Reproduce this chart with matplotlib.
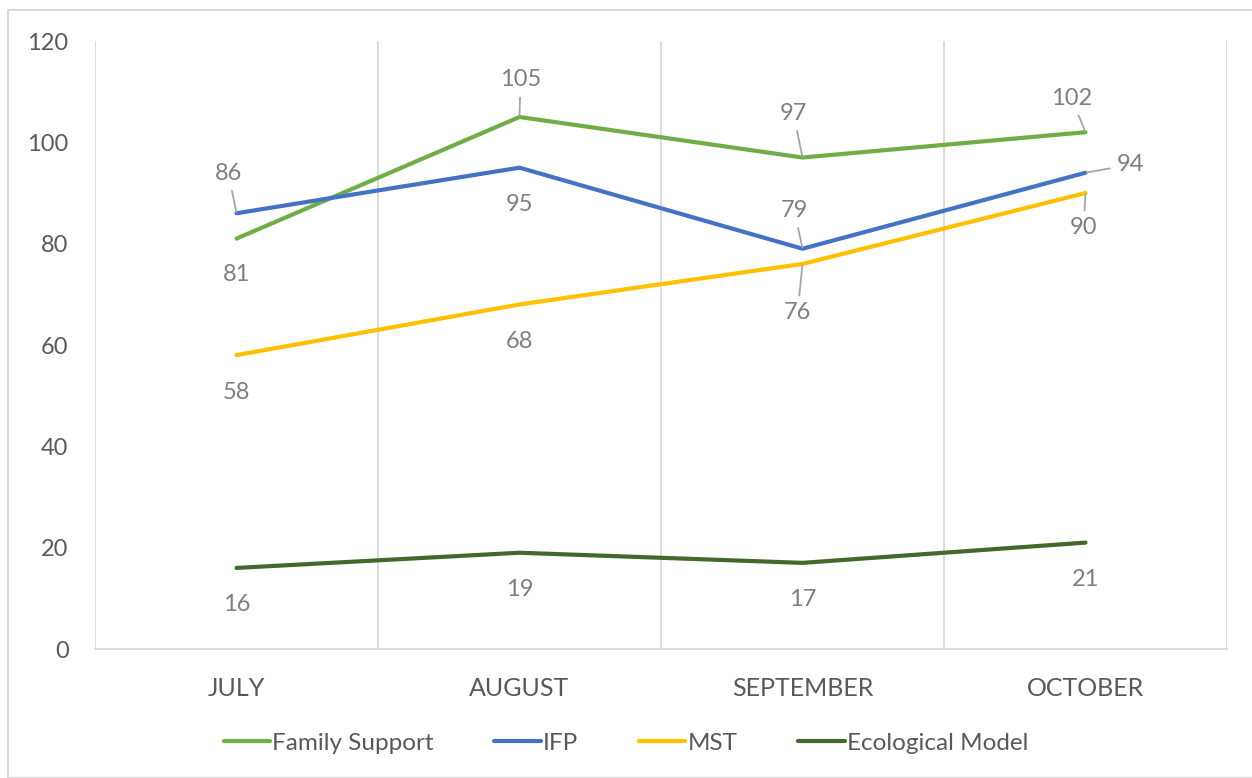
import matplotlib.pyplot as plt
from matplotlib.patches import Rectangle

plt.rcParams['font.family'] = ['Lato', 'DejaVu Sans']

# chart data
months = ['JULY', 'AUGUST', 'SEPTEMBER', 'OCTOBER']
family_support = [81, 105, 97, 102]
ifp = [86, 95, 79, 94]
mst = [58, 68, 76, 90]
ecological = [16, 19, 17, 21]

series = [
    ('Family Support', family_support, '#70AD47'),
    ('IFP', ifp, '#4472C4'),
    ('MST', mst, '#FFC000'),
    ('Ecological Model', ecological, '#43682B'),
]

# label placement (pixel offsets from each point) and whether a leader line is drawn
label_offsets = {
    'Family Support': [(0, -36), (1, 37), (-9, 44), (-14, 34)],
    'IFP': [(-8, 40), (0, -37), (-8, 38), (45, 8)],
    'MST': [(0, -37), (0, -37), (-5, -49), (-2, -35)],
    'Ecological Model': [(0, -37), (0, -37), (0, -37), (0, -37)],
}
leaders = {
    'Family Support': [False, True, True, True],
    'IFP': [True, False, True, True],
    'MST': [False, False, True, True],
    'Ecological Model': [False, False, False, False],
}

fig = plt.figure(figsize=(12.52, 7.78), dpi=100)
ax = fig.add_axes([95 / 1252, 1 - 649 / 778, (1227 - 95) / 1252, (649 - 41) / 778])

# outer chart border
fig.patches.append(Rectangle((8 / 1252, 0), 1.0, 1 - 10 / 778, transform=fig.transFigure,
                             fill=False, edgecolor='#d9d9d9', linewidth=1.5))

x = list(range(len(months)))
for name, vals, color in series:
    ax.plot(x, vals, color=color, linewidth=3, label=name, solid_capstyle='round')
    for i, v in enumerate(vals):
        dx, dy = label_offsets[name][i]
        arrow = None
        if leaders[name][i]:
            arrow = dict(arrowstyle='-', color='#a6a6a6', lw=1.3, shrinkA=3, shrinkB=1)
        ax.annotate(str(v), xy=(i, v), xytext=(dx, dy), textcoords='offset pixels',
                    ha='center', va='center', fontsize=17, color='#7f7f7f',
                    arrowprops=arrow)

ax.set_xlim(-0.5, 3.5)
ax.set_ylim(0, 120)
ax.set_yticks(range(0, 121, 20))
ax.set_xticks(x)
ax.set_xticklabels(months)

# vertical gridlines at category boundaries
for b in [-0.5, 0.5, 1.5, 2.5, 3.5]:
    ax.axvline(b, color='#d9d9d9', linewidth=1.3, zorder=0)

for s in ['top', 'right', 'left']:
    ax.spines[s].set_visible(False)
ax.spines['bottom'].set_color('#d9d9d9')
ax.spines['bottom'].set_linewidth(1.3)
ax.tick_params(axis='both', length=0, colors='#595959', labelsize=17)
ax.tick_params(axis='x', labelsize=18)
ax.tick_params(axis='y', pad=19)
ax.tick_params(axis='x', pad=20)

ax.legend(loc='center', bbox_to_anchor=(0.5, (778 - 743) / 778), bbox_transform=fig.transFigure,
          ncol=4, frameon=False, fontsize=17.5, handlelength=1.9, handletextpad=0.1,
          columnspacing=2.5, labelcolor='#595959')

fig.savefig('out.png', dpi=100)
